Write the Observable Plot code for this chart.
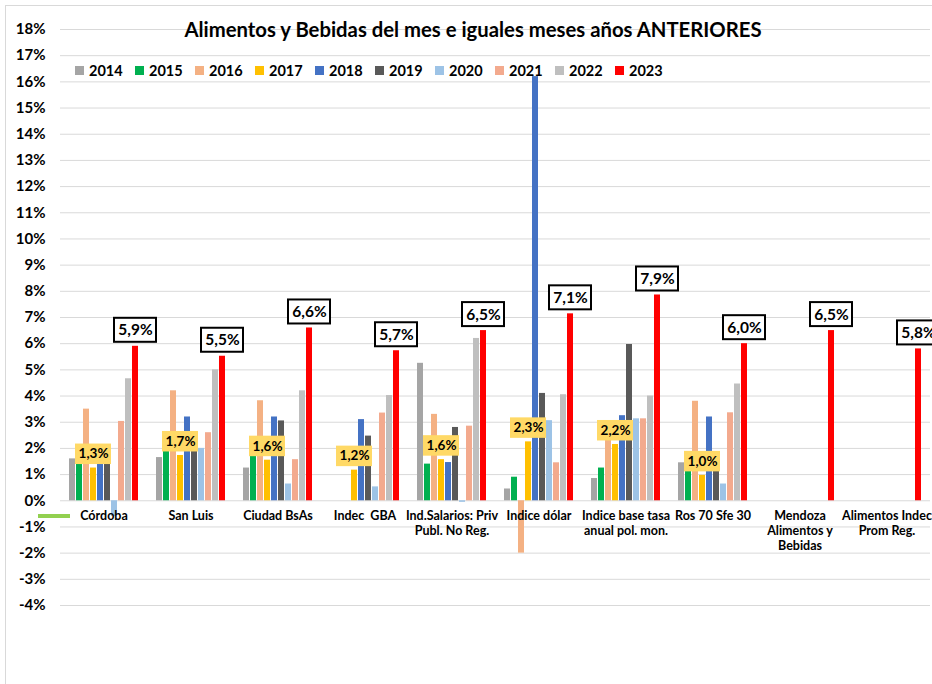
<!DOCTYPE html>
<html><head><meta charset="utf-8">
<script src="https://cdn.jsdelivr.net/npm/d3@7"></script>
<script src="https://cdn.jsdelivr.net/npm/@observablehq/plot@0.6"></script>
<style>
body{margin:0;overflow:hidden;background:#fff;font-family:Lato,"Open Sans",sans-serif;}
#wrap{position:relative;width:932px;height:684px;overflow:hidden;}
#frame{position:absolute;left:5px;top:5px;width:960px;height:720px;border:1px solid #d9d9d9;}
#title{position:absolute;left:0;width:946px;top:17px;text-align:center;font-weight:bold;font-size:20.3px;color:#000;}
#legend{position:absolute;top:62px;left:75px;display:flex;}
.li{width:60px;display:flex;align-items:center;font-weight:bold;font-size:14.5px;}
.sw{width:9px;height:9px;margin-right:5px;}
#gline{position:absolute;left:38px;top:514px;width:32px;height:4px;background:#92D050;}
#chart{position:absolute;left:0;top:0;}
</style></head>
<body><div id="wrap"><div id="frame"></div><div id="chart"></div><div id="title"></div><div id="legend"></div><div id="gline"></div></div>
<script>
const title = "Alimentos y Bebidas del mes e iguales meses años ANTERIORES";
const categories = ["Córdoba","San Luis","Ciudad BsAs","Indec  GBA","Ind.Salarios: Priv Publ. No Reg.","Indice dólar","Indice base tasa anual pol. mon.","Ros 70 Sfe 30","Mendoza Alimentos y Bebidas","Alimentos Indec Prom Reg."];
const categoryLabels = ["Córdoba","San Luis","Ciudad BsAs","Indec  GBA","Ind.Salarios: Priv\nPubl. No Reg.","Indice dólar","Indice base tasa\nanual pol. mon.","Ros 70 Sfe 30","Mendoza\nAlimentos y\nBebidas","Alimentos Indec\nProm Reg."];
const years = ["2014","2015","2016","2017","2018","2019","2020","2021","2022","2023"];
const colors = ["#A5A5A5","#00B050","#F4B183","#FFC000","#4472C4","#595959","#9DC3E6","#F3AA8E","#BFBFBF","#FF0000"];
const v2014 = [1.6, 1.65, 1.25, null, 5.25, 0.45, 0.85, 1.45, null, null];
const v2015 = [1.5, 1.9, 1.8, null, 1.4, 0.9, 1.25, 1.15, null, null];
const v2016 = [3.5, 4.2, 3.82, null, 3.3, -2.0, 2.4, 3.8, null, null];
const v2017 = [1.25, 1.73, 1.55, 1.17, 1.57, 2.25, 2.15, 0.97, null, null];
const v2018 = [1.5, 3.2, 3.2, 3.1, 1.46, 16.2, 3.25, 3.2, null, null];
const v2019 = [1.5, 1.9, 3.05, 2.47, 2.8, 4.1, 5.97, 1.15, null, null];
const v2020 = [-0.6, 2.0, 0.64, 0.53, -0.06, 3.06, 3.13, 0.64, null, null];
const v2021 = [3.03, 2.6, 1.57, 3.35, 2.85, 1.45, 3.13, 3.36, null, null];
const v2022 = [4.66, 5.0, 4.2, 4.02, 6.2, 4.05, 4.0, 4.46, null, null];
const v2023 = [5.9, 5.52, 6.6, 5.73, 6.5, 7.14, 7.86, 6.0, 6.5, 5.8];
const labels2023 = ["5,9%","5,5%","6,6%","5,7%","6,5%","7,1%","7,9%","6,0%","6,5%","5,8%"];
const labels2017 = ["1,3%","1,7%","1,6%","1,2%","1,6%","2,3%","2,2%","1,0%",null,null];
const yTicks = [-4,-3,-2,-1,0,1,2,3,4,5,6,7,8,9,10,11,12,13,14,15,16,17,18];

const series = [v2014,v2015,v2016,v2017,v2018,v2019,v2020,v2021,v2022,v2023];
const rows = [];
series.forEach((vals, j) => vals.forEach((v, i) => { if (v != null) rows.push({cat: categories[i], year: years[j], value: v}); }));
const red = categories.map((c, i) => ({cat: c, year: "2023", value: v2023[i], label: labels2023[i]}));
const yel = categories.map((c, i) => ({cat: c, year: "2017", value: v2017[i], label: labels2017[i]})).filter(d => d.label);
const catRows = categories.map((c, i) => ({cat: c, y: 0, label: categoryLabels[i]}));

document.getElementById("title").textContent = title;
const lg = document.getElementById("legend");
years.forEach((y, i) => {
  const d = document.createElement("div"); d.className = "li";
  d.innerHTML = `<span class="sw" style="background:${colors[i]}"></span><span>${y}</span>`;
  lg.appendChild(d);
});

const chart = Plot.plot({
  width: 932, height: 684,
  marginLeft: 57, marginRight: 0, marginTop: 29, marginBottom: 79,
  fx: {domain: categories, padding: 0, axis: null, label: null},
  x: {domain: years, paddingInner: 0.18, paddingOuter: 0.9, axis: null},
  y: {domain: [-4, 18], ticks: yTicks, tickFormat: d => d + "%", tickSize: 0, tickPadding: 15, label: null},
  color: {domain: years, range: colors},
  style: {fontFamily: "Lato, 'Open Sans', sans-serif", fontSize: "15px", fontWeight: "bold", color: "#000", background: "transparent", overflow: "visible"},
  marks: [
    Plot.ruleY(yTicks, {stroke: "#d9d9d9", strokeWidth: 1}),
    Plot.barY(rows, {fx: "cat", x: "year", y: "value", fill: "year"}),
    Plot.barY(red, {fx: "cat", x: "year", y1: "value", y2: "value", fill: "white", stroke: "black", strokeWidth: 2, insetLeft: -18, insetRight: -18, insetTop: -28, insetBottom: 4}),
    Plot.text(red, {fx: "cat", x: "year", y: "value", text: "label", dy: -16, fontSize: 15.5, fill: "#000"}),
    Plot.barY(yel, {fx: "cat", x: "year", y1: "value", y2: "value", fill: "#FFD966", insetLeft: -15, insetRight: -15, insetTop: -24, insetBottom: 3.5}),
    Plot.text(yel, {fx: "cat", x: "year", y: "value", text: "label", dy: -14, fontSize: 13.5, fill: "#000"}),
    Plot.text(catRows, {fx: "cat", y: "y", text: "label", lineAnchor: "top", dy: 9, fontSize: 12.5, lineHeight: 1.2, fill: "#000"})
  ]
});
document.getElementById("chart").appendChild(chart);
</script></body></html>
